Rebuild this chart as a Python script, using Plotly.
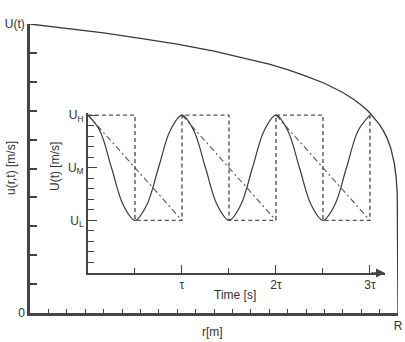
import plotly.graph_objects as go

# ---- data ----
# outer velocity profile (r/R, u/U)
r_vals = [0, 0.1, 0.2, 0.3, 0.4, 0.5, 0.6, 0.65, 0.7, 0.75, 0.8, 0.85, 0.88, 0.9,
          0.92, 0.94, 0.95, 0.96, 0.97, 0.98, 0.985, 0.99, 0.995, 0.998, 1.0]
u_vals = [1.0, 0.985, 0.969, 0.950, 0.930, 0.906, 0.877, 0.861, 0.842, 0.820, 0.795,
          0.763, 0.739, 0.720, 0.697, 0.669, 0.652, 0.631, 0.606, 0.572, 0.549,
          0.518, 0.469, 0.412, 0.0]

# inset: time in units of tau, velocity levels (U_L=5, U_M=10, U_H=15)
t_cos = [0, 0.125, 0.25, 0.375, 0.5, 0.625, 0.75, 0.875,
         1, 1.125, 1.25, 1.375, 1.5, 1.625, 1.75, 1.875,
         2, 2.125, 2.25, 2.375, 2.5, 2.625, 2.75, 2.875, 3]
u_cos = [15, 13.54, 10, 6.46, 5, 6.46, 10, 13.54,
         15, 13.54, 10, 6.46, 5, 6.46, 10, 13.54,
         15, 13.54, 10, 6.46, 5, 6.46, 10, 13.54, 15]

t_sq = [0, 0.5, 0.5, 1, 1, 1.5, 1.5, 2, 2, 2.5, 2.5, 3, 3]
u_sq = [15, 15, 5, 5, 15, 15, 5, 5, 15, 15, 5, 5, 15]

t_saw = [0, 1, None, 1, 2, None, 2, 3]
u_saw = [15, 5, None, 15, 5, None, 15, 5]

outer_y_ticks = [0, 1.0]
outer_y_text = ["0", "U(t)"]
outer_x_label_ticks = [1.0]
outer_x_label_text = ["R"]
outer_x_major = [0.25, 0.5, 0.75, 1.0]
inset_y_ticks = [5, 10, 15]
inset_y_text = ["U<sub>L</sub>", "U<sub>M</sub>", "U<sub>H</sub>"]
inset_x_ticks = [1, 2, 3]
inset_x_text = ["τ", "2τ", "3τ"]

W, H = 405, 342
def px(x):
    return x / W
def py(y):
    return 1 - y / H

AX = "#444444"
TXT = "#333333"
FONT = "Liberation Sans, Arial, sans-serif"

fig = go.Figure()
fig.add_trace(go.Scatter(x=r_vals, y=u_vals, mode="lines",
                         line=dict(color="#3a3a3a", width=1.3),
                         xaxis="x", yaxis="y", hoverinfo="skip"))
fig.add_trace(go.Scatter(x=t_sq, y=u_sq, mode="lines",
                         line=dict(color="#555555", width=1.4, dash="4px,3px"),
                         xaxis="x2", yaxis="y2", hoverinfo="skip"))
fig.add_trace(go.Scatter(x=t_saw, y=u_saw, mode="lines",
                         line=dict(color="#555555", width=1.1, dash="6px,3px,2px,3px"),
                         xaxis="x2", yaxis="y2", hoverinfo="skip", connectgaps=False))
fig.add_trace(go.Scatter(x=t_cos, y=u_cos, mode="lines",
                         line=dict(color="#3a3a3a", width=1.2, shape="spline", smoothing=1.0),
                         xaxis="x2", yaxis="y2", hoverinfo="skip"))

tickfont = dict(family=FONT, size=12, color=TXT)
common = dict(showgrid=False, zeroline=False, fixedrange=True, automargin=False)

fig.update_layout(
    width=W, height=H,
    margin=dict(l=0, r=0, t=0, b=0, pad=0, autoexpand=False),
    paper_bgcolor="white", plot_bgcolor="rgba(0,0,0,0)",
    showlegend=False,
    font=dict(family=FONT, size=12, color=TXT),
    xaxis=dict(domain=[px(30), px(398)], range=[0, 1], anchor="y",
               showline=True, linecolor=AX, linewidth=2.5,
               ticks="inside", ticklen=4, tickwidth=1.2, tickcolor=AX,
               tickvals=outer_x_label_ticks, ticktext=outer_x_label_text,
               tickfont=tickfont,
               minor=dict(dtick=0.05, tick0=0, ticks="inside", ticklen=4,
                          tickwidth=1.2, tickcolor=AX),
               **common),
    xaxis3=dict(domain=[px(30), px(398)], range=[0, 1], anchor="y",
                overlaying="x", showline=False,
                ticks="inside", ticklen=7, tickwidth=1.5, tickcolor=AX,
                tickvals=outer_x_major, showticklabels=False, side="bottom",
                **common),
    yaxis=dict(domain=[py(313), py(24)], range=[0, 1], anchor="x",
               showline=True, linecolor=AX, linewidth=2.5,
               ticks="inside", ticklen=7, tickwidth=1.5, tickcolor=AX,
               tickvals=outer_y_ticks, ticktext=outer_y_text, tickfont=tickfont,
               minor=dict(dtick=0.1, tick0=0, ticks="inside", ticklen=7,
                          tickwidth=1.5, tickcolor=AX),
               **common),
    xaxis2=dict(domain=[px(88), px(385)], range=[0, 3.16], anchor="y2",
                showline=True, linecolor=AX, linewidth=2,
                ticks="inside", ticklen=8, tickwidth=1.3, tickcolor=AX,
                tickvals=inset_x_ticks, ticktext=inset_x_text, tickfont=tickfont,
                minor=dict(dtick=0.5, tick0=0, ticks="inside", ticklen=5,
                           tickwidth=1.2, tickcolor=AX),
                **common),
    yaxis2=dict(domain=[py(273), py(113)], range=[0, 15.2], anchor="x2",
                showline=True, linecolor=AX, linewidth=2,
                ticks="inside", ticklen=9, tickwidth=1.3, tickcolor=AX,
                tickvals=inset_y_ticks, ticktext=inset_y_text, tickfont=tickfont,
                minor=dict(dtick=1, tick0=0, ticks="inside", ticklen=6,
                           tickwidth=1.2, tickcolor=AX),
                **common),
)

annots = [
    dict(x=px(11), y=py(168), text="u(r,t) [m/s]", textangle=-90),
    dict(x=px(55), y=py(167), text="U(t) [m/s]", textangle=-90),
    dict(x=px(235), y=py(295), text="Time [s]"),
    dict(x=px(212), y=py(332), text="r[m]"),
]
for a in annots:
    fig.add_annotation(xref="paper", yref="paper", showarrow=False,
                       xanchor="center", yanchor="middle",
                       font=dict(family=FONT, size=12, color=TXT), **a)

# arrow head at the end of the inset time axis
fig.add_annotation(x=3.16, y=0, ax=3.0, ay=0, xref="x2", yref="y2",
                   axref="x2", ayref="y2", showarrow=True, arrowhead=2,
                   arrowsize=1.2, arrowwidth=1.5, arrowcolor=AX, text="")

fig.write_html("out.html")
